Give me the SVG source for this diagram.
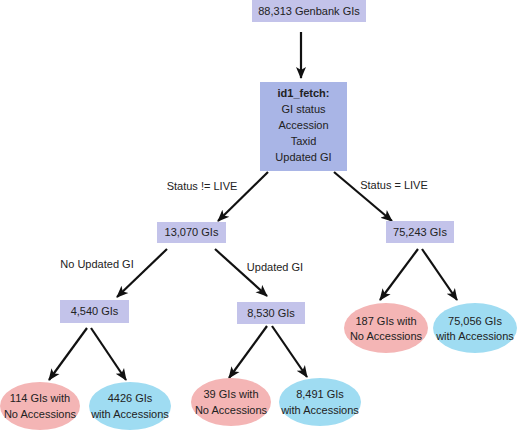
<svg xmlns="http://www.w3.org/2000/svg" width="520" height="431" viewBox="0 0 520 431">
<style>
text{font-family:"Liberation Sans",Arial,sans-serif;font-size:11px;fill:#222;text-anchor:middle}
.box{fill:#c3c3ea}
.main{fill:#a9b5e6}
.no{fill:#f4b5b5}
.yes{fill:#9fdcf2}
.c line{stroke:#111;stroke-width:2.2}
.b{font-weight:bold}
</style>
<defs>
<marker id="ah" markerUnits="userSpaceOnUse" markerWidth="12" markerHeight="12" viewBox="0 0 12 12" refX="11" refY="6" orient="auto">
<path d="M0,1 L12,6 L0,11 L3,6 Z" fill="#111"/>
</marker>
</defs>
<rect width="520" height="431" fill="#fff"/>
<g class="c" id="connectors">
<line x1="301" y1="32" x2="301" y2="78" marker-end="url(#ah)"/>
<line x1="268" y1="172" x2="218" y2="221" marker-end="url(#ah)"/>
<line x1="334" y1="172" x2="392" y2="221" marker-end="url(#ah)"/>
<line x1="167" y1="249" x2="117" y2="297" marker-end="url(#ah)"/>
<line x1="215" y1="249" x2="267" y2="296" marker-end="url(#ah)"/>
<line x1="87" y1="328" x2="49" y2="380" marker-end="url(#ah)"/>
<line x1="91" y1="328" x2="126" y2="380" marker-end="url(#ah)"/>
<line x1="267" y1="326" x2="229" y2="378" marker-end="url(#ah)"/>
<line x1="272" y1="326" x2="307" y2="377" marker-end="url(#ah)"/>
<line x1="418" y1="249" x2="380" y2="300" marker-end="url(#ah)"/>
<line x1="422" y1="249" x2="457" y2="300" marker-end="url(#ah)"/>
<text x="202" y="190">Status != LIVE</text>
<text x="394" y="189">Status = LIVE</text>
<text x="97" y="268">No Updated GI</text>
<text x="275" y="271">Updated GI</text>
</g>
<g id="n-top"><rect class="box" x="252" y="0" width="114" height="22"/><text x="309" y="15">88,313 Genbank GIs</text></g>
<g id="n-fetch"><rect class="main" x="260" y="82" width="87" height="89"/>
<text class="b" x="303.5" y="97">id1_fetch:</text>
<text x="303.5" y="113">GI status</text>
<text x="303.5" y="129">Accession</text>
<text x="303.5" y="145">Taxid</text>
<text x="303.5" y="161">Updated GI</text></g>
<g id="n-13070"><rect class="box" x="157" y="222" width="69" height="21"/><text x="191.5" y="236">13,070 GIs</text></g>
<g id="n-75243"><rect class="box" x="386" y="221" width="68" height="22"/><text x="420" y="236">75,243 GIs</text></g>
<g id="n-4540"><rect class="box" x="60" y="300" width="69" height="23"/><text x="94.5" y="315">4,540 GIs</text></g>
<g id="n-8530"><rect class="box" x="237" y="302" width="68" height="22"/><text x="271" y="317">8,530 GIs</text></g>
<g id="n-114"><ellipse class="no" cx="40" cy="406" rx="40" ry="24"/><text x="40" y="402">114 GIs with</text><text x="40" y="418">No Accessions</text></g>
<g id="n-4426"><ellipse class="yes" cx="130" cy="406" rx="41" ry="24"/><text x="130" y="402">4426 GIs</text><text x="130" y="418">with Accessions</text></g>
<g id="n-39"><ellipse class="no" cx="231" cy="402" rx="40" ry="24"/><text x="231" y="398">39 GIs with</text><text x="231" y="414">No Accessions</text></g>
<g id="n-8491"><ellipse class="yes" cx="320" cy="402" rx="41" ry="24"/><text x="320" y="398">8,491 GIs</text><text x="320" y="414">with Accessions</text></g>
<g id="n-187"><ellipse class="no" cx="386" cy="328" rx="42" ry="25"/><text x="386" y="325">187 GIs with</text><text x="386" y="340">No Accessions</text></g>
<g id="n-75056"><ellipse class="yes" cx="475" cy="328" rx="42" ry="25"/><text x="475" y="325">75,056 GIs</text><text x="475" y="340">with Accessions</text></g>
</svg>
